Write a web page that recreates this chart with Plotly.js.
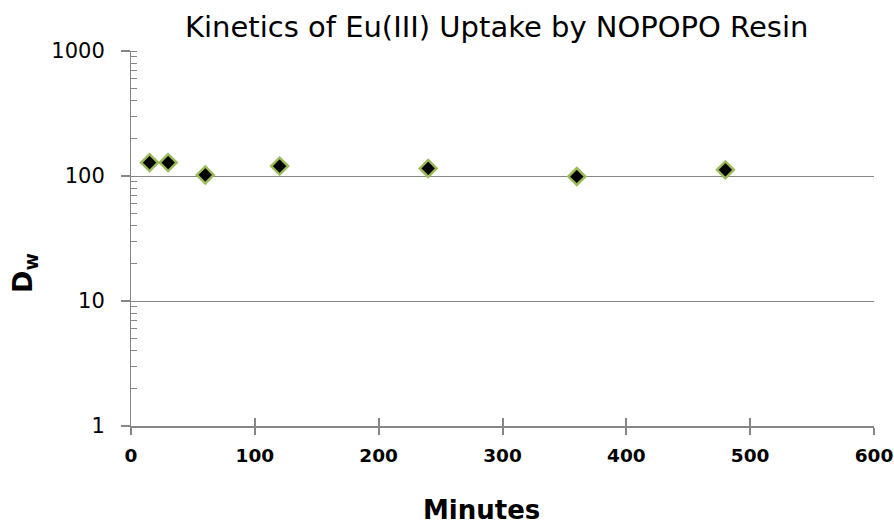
<!DOCTYPE html>
<html><head><meta charset="utf-8">
<script src="https://cdn.plot.ly/plotly-3.0.1.min.js"></script>
<style>body{margin:0;padding:0;background:#fff}#chart{width:894px;height:525px}</style>
</head><body><div id="chart"></div>
<script>
const minutes = [15, 30, 60, 120, 240, 360, 480];
const dw = [128, 128, 102, 120, 115, 99, 112];
const titleText = "Kinetics of Eu(III) Uptake by NOPOPO Resin";
const xTitle = "Minutes";
const yTitle = "D<sub>w</sub>";
const xTicks = [0, 100, 200, 300, 400, 500, 600];
const yTicks = [1, 10, 100, 1000];

const W = 894, H = 525;
const axisColor = '#868686';
const trace = {
  x: minutes, y: dw, type: 'scatter', mode: 'markers',
  marker: {symbol: 'diamond', size: 13, color: '#000000', line: {color: '#9BBB59', width: 2.5}},
  cliponaxis: false
};
const helper = {x: [0], y: [1], xaxis: 'x2', yaxis: 'y', type: 'scatter', mode: 'none', hoverinfo: 'skip'};
const layout = {
  width: W, height: H,
  margin: {l: 131, r: 20, t: 51, b: 99},
  paper_bgcolor: '#fff', plot_bgcolor: '#fff',
  showlegend: false,
  font: {family: 'DejaVu Sans, sans-serif', color: '#000'},
  xaxis: {
    range: [0, 600], tickvals: xTicks, ticktext: xTicks.map(String),
    showgrid: false, zeroline: false, showline: true, linecolor: axisColor, linewidth: 2,
    ticks: 'outside', ticklen: 7, tickwidth: 2, tickcolor: axisColor,
    ticklabelstandoff: 5,
    tickfont: {size: 18.5, family: 'DejaVu Sans, sans-serif', weight: 'bold'}
  },
  xaxis2: {
    overlaying: 'x', side: 'bottom', anchor: 'y',
    range: [0, 600], tickvals: xTicks, showticklabels: false,
    showgrid: false, zeroline: false, showline: false,
    ticks: 'inside', ticklen: 8, tickwidth: 2, tickcolor: axisColor
  },
  yaxis: {
    type: 'log', range: [0, 3], tickvals: yTicks, ticktext: yTicks.map(String),
    showgrid: true, gridcolor: axisColor, gridwidth: 1, zeroline: false,
    showline: true, linecolor: axisColor, linewidth: 1,
    ticks: 'outside', ticklen: 9, tickwidth: 2, tickcolor: axisColor,
    ticklabelstandoff: 12,
    tickfont: {size: 21, family: 'DejaVu Sans, sans-serif'},
    minor: {ticks: 'inside', ticklen: 6, tickwidth: 1, tickcolor: axisColor, showgrid: false, dtick: 'D1'}
  },
  annotations: [
    {text: titleText, xref: 'paper', yref: 'paper', x: (496 - 131) / 743, y: 1 + (51 - 27) / 375,
     xanchor: 'center', yanchor: 'middle', showarrow: false,
     font: {size: 29, family: 'DejaVu Sans, sans-serif', color: '#000'}},
    {text: xTitle, xref: 'paper', yref: 'paper', x: (481 - 131) / 743, y: -(510 - 426) / 375,
     xanchor: 'center', yanchor: 'middle', showarrow: false,
     font: {size: 26, family: 'DejaVu Sans, sans-serif', weight: 'bold', color: '#000'}},
    {text: yTitle, xref: 'paper', yref: 'paper', x: -(131 - 24) / 743, y: (426 - 273) / 375,
     xanchor: 'center', yanchor: 'middle', showarrow: false, textangle: -90,
     font: {size: 27, family: 'DejaVu Sans, sans-serif', weight: 'bold', color: '#000'}}
  ]
};
Plotly.newPlot('chart', [trace, helper], layout, {displayModeBar: false, staticPlot: true});
</script></body></html>
